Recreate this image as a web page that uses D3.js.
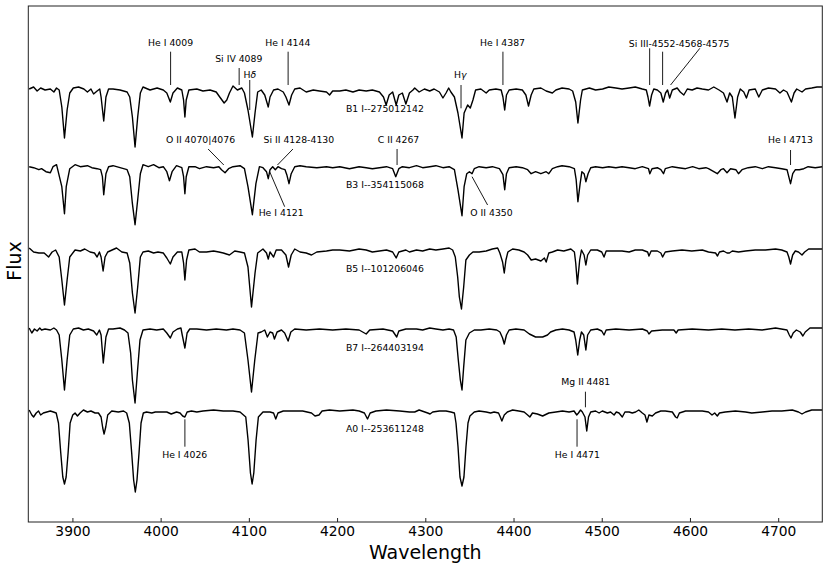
<!DOCTYPE html>
<html>
<head>
<meta charset="utf-8">
<script src="https://cdn.jsdelivr.net/npm/d3@7"></script>
<style>
    body { margin: 0; background: #fff; }
    svg text { font-family: "DejaVu Sans", sans-serif; fill: #000; }
    .axis line { stroke: #222; }
    .axis text { font-size: 13.8px; }
    .note { font-size: 9.3px; }
</style>
</head>
<body>
<div id="chart"></div>
<script>

// wavelength (A), normalized flux
var specB1 = [[3851,1.01],[3856,1.03],[3860,0.99],[3864,1.02],[3869,1.0],[3875,1.01],[3879,0.98],[3882,1.02],[3885,1.0],[3888,0.83],[3891,0.52],[3894,0.80],[3897,0.97],[3901,1.02],[3907,1.03],[3913,1.01],[3917,0.98],[3921,1.01],[3924,0.96],[3928,0.99],[3931,1.01],[3932.5,0.93],[3935.5,0.69],[3938,0.93],[3941,1.01],[3946,1.01],[3954,1.0],[3962,0.98],[3965,0.93],[3968,0.73],[3971,0.43],[3974,0.73],[3977,0.97],[3980,1.03],[3988,1.0],[3996,1.02],[4003,1.0],[4007,0.97],[4011,0.88],[4014,0.97],[4019,1.02],[4024,1.0],[4026,0.90],[4027.5,0.73],[4029,0.90],[4032,1.0],[4041,1.01],[4048,0.99],[4056,1.0],[4063,0.98],[4067,0.93],[4072,0.87],[4075,0.90],[4078,0.97],[4082,1.04],[4087,1.0],[4092,1.02],[4095,0.97],[4099,0.80],[4104,0.53],[4107,0.77],[4110,0.98],[4114,1.0],[4118,0.95],[4122,0.83],[4124,0.93],[4128,1.0],[4133,1.01],[4139,0.98],[4142,0.93],[4145.5,0.85],[4148.5,0.95],[4152,1.01],[4158,1.02],[4165,0.98],[4173,1.0],[4180,0.99],[4188,0.98],[4191.5,0.95],[4195,0.99],[4203,0.99],[4210,1.0],[4218,0.98],[4225,1.0],[4233,0.99],[4240,1.0],[4248,0.98],[4252.6,0.93],[4255.6,0.85],[4259,0.95],[4263,0.98],[4267,0.85],[4270,0.95],[4274,0.97],[4278,0.86],[4282,0.97],[4286,1.0],[4288,1.02],[4293,0.98],[4299,1.01],[4305,0.99],[4310,1.01],[4316,0.98],[4320,0.92],[4323.5,0.97],[4326.5,1.02],[4329,0.98],[4333,0.93],[4337,0.77],[4341.6,0.52],[4344,0.77],[4348,0.85],[4351,0.82],[4354,0.9],[4357,1.0],[4363,1.01],[4369,0.97],[4372.5,1.0],[4380,1.01],[4386,1.0],[4388,0.93],[4390,0.80],[4392,0.95],[4395,1.0],[4403,1.01],[4410,1.0],[4414,0.95],[4417,0.84],[4420,0.95],[4423,1.01],[4431,1.02],[4437,0.99],[4444,0.97],[4448,1.0],[4455,1.02],[4463,1.01],[4467,0.99],[4470.5,0.88],[4473,0.67],[4476,0.90],[4478,1.0],[4486,1.02],[4493,1.0],[4501,1.01],[4508,1.03],[4516,1.02],[4523,1.01],[4531,1.02],[4538,1.03],[4546,1.01],[4550.5,1.0],[4552.4,0.93],[4554.2,0.84],[4556.5,0.95],[4559,1.01],[4563,1.0],[4567,0.97],[4569.7,0.88],[4572.3,0.97],[4574.6,1.0],[4577,0.92],[4580,1.0],[4585.5,1.02],[4589,0.98],[4593,0.95],[4597,1.01],[4602.5,1.0],[4608,1.02],[4614,1.01],[4621,1.0],[4627,1.03],[4633,1.0],[4638,0.97],[4642,0.88],[4645,0.97],[4648,0.93],[4651,0.72],[4654,0.93],[4657,1.01],[4661,0.98],[4664,0.92],[4667,1.0],[4674,1.01],[4678,0.93],[4682,1.0],[4689,1.02],[4697,1.01],[4702,0.97],[4706,1.0],[4710,0.98],[4715,0.88],[4718,0.97],[4721,1.01],[4727,0.98],[4731,1.01],[4738,1.02],[4744,1.03],[4750,1.03]];

var specB3 = [[3851,1.0],[3856,0.99],[3862,0.97],[3865,0.98],[3870,0.95],[3875,0.94],[3878,1.0],[3882,1.02],[3888,0.80],[3891,0.53],[3893,0.80],[3897,0.98],[3903,1.02],[3909,1.0],[3917,1.01],[3922,0.99],[3928,0.98],[3932,0.97],[3934,0.90],[3935.5,0.72],[3938,0.93],[3941,1.0],[3946,1.01],[3954,0.99],[3962,0.97],[3965,0.90],[3968,0.63],[3971,0.42],[3974,0.67],[3977,0.93],[3980,1.02],[3986,1.0],[3992,1.02],[3998,0.99],[4003,1.0],[4007,0.95],[4010,0.86],[4013,0.95],[4018,1.01],[4024,0.99],[4026,0.90],[4027.5,0.73],[4029,0.90],[4032,1.0],[4039,1.0],[4044,0.98],[4052,1.0],[4060,0.99],[4066,1.0],[4069,0.97],[4073,0.94],[4077,0.98],[4082,1.0],[4090,1.01],[4095,0.98],[4099,0.80],[4104,0.52],[4108,0.83],[4112,1.0],[4116,0.99],[4120,0.95],[4122,0.88],[4124,0.97],[4127,1.0],[4130,0.97],[4133,1.0],[4137,0.98],[4141,0.97],[4143,0.92],[4145.5,0.83],[4148,0.93],[4152,1.0],[4158,1.01],[4165,1.0],[4177,0.99],[4188,1.0],[4195,0.99],[4203,1.0],[4214,0.98],[4225,1.0],[4233,0.99],[4240,0.98],[4248,0.99],[4256,1.0],[4263,0.98],[4266.5,0.90],[4270,0.98],[4274,1.0],[4282,0.99],[4290,1.01],[4297,0.99],[4305,1.0],[4312,1.01],[4320,0.99],[4327,1.0],[4333,0.97],[4337,0.77],[4341.6,0.51],[4344,0.80],[4347,0.93],[4350,0.95],[4353,0.93],[4355.5,0.98],[4361,1.0],[4369,0.99],[4376,1.0],[4384,0.98],[4388,0.92],[4390,0.77],[4392,0.93],[4395,0.99],[4403,1.0],[4410,0.99],[4416,0.97],[4420,0.93],[4425,0.95],[4431,0.93],[4437,0.95],[4440,0.93],[4444,0.98],[4450,1.0],[4455,1.01],[4463,1.0],[4469,0.98],[4471,0.87],[4473,0.65],[4475.5,0.83],[4477.5,0.95],[4480,0.93],[4482,0.85],[4484.5,0.93],[4487.5,0.99],[4493,1.0],[4501,0.99],[4508,1.0],[4516,0.99],[4523,1.0],[4531,0.99],[4538,0.98],[4546,1.0],[4553,0.98],[4554.5,0.93],[4557,0.98],[4563,0.99],[4567,0.97],[4570,0.93],[4572,0.98],[4580,1.0],[4587,0.99],[4595,0.98],[4603,1.0],[4610,0.98],[4618,0.99],[4621,0.98],[4631,0.93],[4635,0.97],[4638,0.98],[4642,0.94],[4646,0.98],[4652,0.97],[4655,0.93],[4659,0.97],[4666,0.99],[4674,1.0],[4682,0.98],[4689,1.0],[4697,0.99],[4704,0.98],[4710,0.97],[4714,0.83],[4716.5,0.93],[4719.5,0.97],[4724,0.97],[4729,0.98],[4734,1.0],[4742,0.99],[4750,1.0]];

var specB5 = [[3851,1.02],[3856,0.98],[3862,0.97],[3868,0.97],[3873,0.93],[3877,0.98],[3881,1.0],[3885,0.93],[3888,0.70],[3891,0.45],[3894,0.70],[3897,0.93],[3903,1.0],[3909,0.99],[3914,1.01],[3920,0.98],[3925,0.97],[3928,0.93],[3930.6,0.98],[3932.5,0.93],[3934.8,0.79],[3937,0.93],[3940,0.98],[3945,1.0],[3950,1.02],[3956,0.98],[3962,0.97],[3965,0.87],[3968,0.57],[3971,0.37],[3974,0.63],[3977,0.93],[3980,0.98],[3986,0.99],[3992,0.97],[3997,0.98],[4003,0.97],[4007,0.92],[4011,0.86],[4014,0.93],[4019,0.98],[4024,0.98],[4026,0.87],[4027.5,0.70],[4029.4,0.90],[4032,1.0],[4039,1.01],[4044,0.98],[4052,0.98],[4060,0.99],[4066,0.98],[4071,0.97],[4078,0.95],[4084,0.99],[4090,0.98],[4095,0.97],[4099,0.83],[4103,0.43],[4107,0.77],[4110,0.97],[4116,1.01],[4120,0.97],[4122,0.91],[4124,0.98],[4128,0.93],[4131,1.0],[4137,1.0],[4142,0.95],[4145,0.83],[4148,0.95],[4152,1.01],[4158,0.98],[4165,0.97],[4171,0.95],[4177,0.98],[4188,0.99],[4195,1.0],[4203,1.0],[4214,0.99],[4225,1.01],[4233,1.0],[4240,0.98],[4248,0.99],[4256,1.0],[4263,0.98],[4267,0.92],[4270,0.98],[4278,1.0],[4282,0.98],[4290,1.0],[4297,0.99],[4305,1.01],[4312,1.0],[4320,1.01],[4327,1.02],[4331,1.0],[4334,0.93],[4336.7,0.73],[4338.6,0.53],[4341,0.41],[4343.5,0.63],[4346,0.90],[4350,0.95],[4354,0.98],[4361,0.98],[4369,0.99],[4376,1.01],[4382,1.02],[4384.5,0.97],[4387.6,0.88],[4389.5,0.77],[4391.4,0.90],[4393.6,0.98],[4399,1.01],[4406,1.0],[4412,0.98],[4416,0.95],[4420,0.90],[4425,0.91],[4431,0.89],[4435,0.92],[4437,0.88],[4440,0.97],[4444,0.98],[4450,1.0],[4457,0.99],[4465,1.01],[4469,0.98],[4470.5,0.87],[4472.4,0.66],[4475,0.90],[4477,1.0],[4480,0.95],[4482,0.85],[4484,0.95],[4487.5,1.0],[4495,1.0],[4500,0.98],[4502.6,0.93],[4505,0.99],[4512,0.99],[4523,0.99],[4531,0.98],[4538,1.0],[4546,1.0],[4552,0.98],[4553.5,0.94],[4556,0.99],[4563,0.99],[4567,0.97],[4569,0.93],[4572,0.98],[4580,0.99],[4591,1.0],[4602,0.99],[4614,1.0],[4621,0.98],[4629,0.97],[4631.2,0.94],[4633.4,0.98],[4638,0.99],[4642,0.97],[4644.7,0.97],[4648,0.99],[4655,0.98],[4663,0.99],[4674,1.0],[4685.5,1.0],[4697,1.01],[4704,1.0],[4710,0.98],[4712,0.93],[4714,0.86],[4716.4,0.95],[4719.4,0.99],[4723,0.98],[4727,0.95],[4730,0.98],[4734.5,1.01],[4742,1.01],[4750,1.01]];

var specB7 = [[3851,1.01],[3854,0.96],[3857,1.0],[3860,0.98],[3863,1.01],[3865,0.99],[3869,1.0],[3875,0.99],[3879,1.01],[3882,0.99],[3885,0.94],[3888,0.69],[3891,0.39],[3894,0.69],[3897,0.94],[3901,1.0],[3907,1.01],[3912.5,0.99],[3918,1.0],[3924,0.98],[3927.6,0.94],[3930.6,0.99],[3932.5,0.94],[3935,0.66],[3938,0.92],[3941,1.0],[3946,1.0],[3954,1.01],[3959,0.99],[3963,0.96],[3966,0.76],[3968,0.49],[3971,0.26],[3973.6,0.56],[3976.6,0.89],[3980,0.99],[3988,1.0],[3995.5,0.99],[4003,1.0],[4007,0.96],[4011,0.91],[4014,0.97],[4019,1.0],[4023,1.01],[4024.5,0.94],[4027.5,0.81],[4030,0.96],[4033,1.0],[4041,1.0],[4052,0.99],[4063,1.0],[4074.6,0.99],[4082,1.0],[4090,0.99],[4095,0.96],[4099,0.69],[4103,0.37],[4106.7,0.69],[4110.4,0.96],[4114,0.97],[4118,0.99],[4121,0.92],[4124,0.97],[4127,0.96],[4129,0.90],[4132,0.97],[4137,0.99],[4140.6,0.96],[4144.5,0.88],[4147.6,0.97],[4152,1.0],[4165,0.99],[4180,1.0],[4195,0.99],[4210,1.0],[4225,0.99],[4233,0.95],[4237,0.99],[4252,1.0],[4263,0.98],[4267.6,0.92],[4270,0.98],[4278,1.0],[4282,1.0],[4290,1.0],[4297,0.99],[4305,1.01],[4312,1.0],[4320,0.99],[4327,1.0],[4332,0.99],[4335,0.92],[4337.4,0.69],[4339.7,0.49],[4341.6,0.39],[4343.5,0.62],[4346,0.89],[4350,0.96],[4355.5,0.99],[4363,0.99],[4372.5,1.0],[4381,0.99],[4384.6,0.97],[4387.6,0.91],[4389.5,0.85],[4392,0.94],[4395,0.99],[4402.7,1.0],[4412,0.99],[4418,0.95],[4425,0.92],[4433,0.92],[4438.5,0.94],[4442,0.97],[4448,0.99],[4455.5,1.0],[4463,0.99],[4468.6,0.97],[4470.5,0.89],[4472.8,0.74],[4475,0.89],[4477,0.97],[4479.6,0.94],[4482,0.79],[4484,0.94],[4487.5,0.99],[4495,1.0],[4500,0.98],[4502.6,0.94],[4505,0.99],[4516,1.0],[4531,0.99],[4546,1.0],[4551.6,0.98],[4553.5,0.95],[4556.5,0.98],[4568.6,0.99],[4581.8,0.99],[4584.4,0.96],[4586.6,0.99],[4602.5,1.0],[4621,0.99],[4636,1.0],[4651,0.99],[4666.6,1.0],[4681.7,0.99],[4697,1.01],[4710,0.99],[4712.6,0.94],[4714.5,0.91],[4717,0.96],[4720.6,0.99],[4725,0.97],[4728,0.93],[4730.7,0.97],[4736,1.01],[4750,1.01]];

var specA0 = [[3851,1.0],[3854,0.95],[3856,0.93],[3859,0.97],[3861.6,0.99],[3864,0.95],[3867,0.97],[3871,0.98],[3875,0.99],[3878.5,0.98],[3881.6,0.97],[3884.2,0.87],[3886.8,0.57],[3889.1,0.33],[3891,0.26],[3892.9,0.33],[3895.1,0.57],[3897.4,0.87],[3900.4,0.95],[3903,0.97],[3905.7,0.94],[3908.7,0.97],[3912.5,1.0],[3917,0.98],[3921,0.99],[3925.7,0.97],[3929.5,0.97],[3932.5,0.93],[3934.4,0.82],[3935.9,0.76],[3937.8,0.83],[3940,0.95],[3944.6,0.99],[3952,0.98],[3958,0.99],[3961.5,0.97],[3964.5,0.87],[3967.2,0.57],[3969.4,0.30],[3971.3,0.18],[3973.2,0.30],[3975.5,0.57],[3977.8,0.87],[3980.4,0.97],[3984,0.98],[3990,0.97],[3994,0.98],[3999,0.98],[4007,0.98],[4012,0.96],[4018,0.98],[4022,0.97],[4025,0.94],[4027.5,0.93],[4030,0.98],[4035,0.99],[4041,0.98],[4048,0.99],[4060,1.0],[4071,0.99],[4082,0.99],[4090,0.98],[4096.5,0.93],[4099.1,0.70],[4101.8,0.37],[4103.7,0.26],[4105.6,0.37],[4108.2,0.70],[4110.8,0.93],[4116,0.98],[4124,0.98],[4128,0.97],[4130.5,0.91],[4133,0.97],[4139,0.99],[4150,0.99],[4161,0.99],[4171,0.97],[4175,0.94],[4179.5,0.95],[4183,0.99],[4191.5,1.0],[4203,0.99],[4218,1.0],[4225,0.99],[4231,0.97],[4234.5,0.91],[4237.5,0.97],[4244,0.99],[4256,1.0],[4271,0.99],[4282,0.98],[4288,0.98],[4293,1.0],[4302.7,0.97],[4305.4,0.96],[4308.4,0.98],[4316,0.99],[4323.5,0.99],[4329,0.98],[4333,0.97],[4334.8,0.87],[4337.1,0.63],[4339.3,0.33],[4341.6,0.24],[4343.8,0.33],[4346.1,0.63],[4348.4,0.87],[4350.6,0.94],[4355.5,0.98],[4361,0.99],[4369,0.98],[4374,0.97],[4378,0.98],[4383,0.97],[4385,0.93],[4386.8,0.89],[4389.5,0.95],[4393,0.98],[4399,1.0],[4406,0.99],[4412,0.98],[4416,0.95],[4418.5,0.93],[4421.5,0.97],[4427,0.96],[4433,0.94],[4440,0.97],[4448,0.98],[4455.5,0.99],[4463,0.98],[4468.6,0.99],[4471.7,0.95],[4473.6,0.97],[4476,1.0],[4478,0.98],[4481,0.93],[4483,0.79],[4485,0.93],[4487.5,0.98],[4493,0.99],[4497,0.97],[4500.7,0.99],[4506.4,0.97],[4510,0.98],[4514,0.95],[4516.5,0.98],[4519.6,0.97],[4523.3,0.93],[4526.3,0.98],[4531,0.98],[4534.6,0.97],[4538.4,0.98],[4542,1.0],[4546,0.97],[4549,0.95],[4551.2,0.88],[4553.5,0.95],[4557.3,0.94],[4561,0.97],[4567,0.99],[4572,0.99],[4580,0.98],[4583.7,0.93],[4585.5,0.92],[4588,0.97],[4595,0.99],[4606,0.99],[4614,0.99],[4621,0.98],[4625,0.95],[4628,0.97],[4631,0.94],[4633.4,0.97],[4640,0.98],[4651.5,0.99],[4663,0.98],[4670,0.97],[4682,0.98],[4693,0.99],[4704,0.99],[4716,1.0],[4723,0.98],[4727,0.96],[4731,0.98],[4738,1.0],[4750,1.0]];

var spectra = [specB1, specB3, specB5, specB7, specA0];
var starNames = ["B1 I--275012142", "B3 I--354115068", "B5 I--101206046", "B7 I--264403194", "A0 I--253611248"];
var offsets = [0, -0.767, -1.6, -2.39, -3.2];

var xTicks = [3900, 4000, 4100, 4200, 4300, 4400, 4500, 4600, 4700];

// line identifications: text centre (tx, ty) and leader segments, in data units
var lineNotes = [
    {text: "He I 4009", tx: 4011.3, ty: 1.47, seg: [[4011.3, 1.383, 4011.3, 1.05]]},
    {text: "Si IV 4089", tx: 4088.6, ty: 1.31, seg: [[4089, 1.22, 4089, 1.05]]},
    {text: "H\u03b4", tx: 4101, ty: 1.155, seg: [[4101, 1.10, 4101, 0.80]], greek: true},
    {text: "He I 4144", tx: 4144.2, ty: 1.47, seg: [[4144.5, 1.383, 4144.5, 1.05]]},
    {text: "H\u03b3", tx: 4339.7, ty: 1.15, seg: [[4340.5, 1.05, 4340.5, 0.817]], greek: true},
    {text: "He I 4387", tx: 4387.5, ty: 1.47, seg: [[4388, 1.383, 4388, 1.05]]},
    {text: "Si III-4552-4568-4575", tx: 4587.7, ty: 1.467,
        seg: [[4554.3, 1.417, 4554.3, 1.05], [4569, 1.383, 4569, 1.05], [4611.2, 1.417, 4578, 1.05]]},
    {text: "O II 4070|4076", tx: 4045.2, ty: 0.50, seg: [[4053.8, 0.41, 4071.6, 0.25]]},
    {text: "Si II 4128-4130", tx: 4156.7, ty: 0.50, seg: [[4150, 0.41, 4132.4, 0.25]]},
    {text: "C II 4267", tx: 4269.6, ty: 0.50, seg: [[4268, 0.41, 4268, 0.25]]},
    {text: "He I 4713", tx: 4713.9, ty: 0.50, seg: [[4714, 0.40, 4714, 0.25]]},
    {text: "He I 4121", tx: 4136.6, ty: -0.225, seg: [[4123.6, 0.183, 4140.6, -0.167]]},
    {text: "O II 4350", tx: 4375, ty: -0.225, seg: [[4353, 0.133, 4370.6, -0.15]]},
    {text: "Mg II 4481", tx: 4481.9, ty: -1.92, seg: [[4481.5, -2.017, 4481.5, -2.173]]},
    {text: "He I 4026", tx: 4027.3, ty: -2.645, seg: [[4027.5, -2.293, 4027.5, -2.567]]},
    {text: "He I 4471", tx: 4472.3, ty: -2.645, seg: [[4472, -2.293, 4472, -2.567]]}
];

var W = 830, H = 569;
var margin = {top: 6, right: 7.7, bottom: 47, left: 28.3};
var width = W - margin.left - margin.right,
    height = H - margin.top - margin.bottom;

var x = d3.scaleLinear().domain([3850, 4750]).range([0, width]);
var y = d3.scaleLinear().domain([-3.32, 1.84]).range([height, 0]);

var svg = d3.select("#chart").append("svg")
    .attr("width", W)
    .attr("height", H)
    .append("g")
    .attr("transform", "translate(" + margin.left + "," + margin.top + ")");

svg.append("clipPath")
    .attr("id", "plotClip")
    .append("rect")
    .attr("width", width)
    .attr("height", height);

var line = d3.line()
    .x(function (d) { return x(d[0]); })
    .y(function (d) { return y(d[1] + d[2]); });

var plot = svg.append("g").attr("clip-path", "url(#plotClip)");

spectra.forEach(function (spec, i) {
    var pts = spec.map(function (d) { return [d[0], d[1], offsets[i]]; });
    plot.append("path")
        .datum(pts)
        .attr("fill", "none")
        .attr("stroke", "#000")
        .attr("stroke-width", 1.4)
        .attr("stroke-linejoin", "round")
        .attr("d", line);

    svg.append("text")
        .attr("class", "note")
        .attr("x", x(4210))
        .attr("y", y(1 + offsets[i] - 0.185))
        .attr("dy", "0.35em")
        .text(starNames[i]);
});

lineNotes.forEach(function (n) {
    n.seg.forEach(function (s) {
        svg.append("line")
            .attr("x1", x(s[0])).attr("y1", y(s[1]))
            .attr("x2", x(s[2])).attr("y2", y(s[3]))
            .attr("stroke", "#000")
            .attr("stroke-width", 0.9);
    });
    var t = svg.append("text")
        .attr("class", "note")
        .attr("x", x(n.tx))
        .attr("y", y(n.ty))
        .attr("dy", "0.35em")
        .style("text-anchor", "middle");
    if (n.greek) {
        t.append("tspan").text(n.text.charAt(0));
        t.append("tspan").style("font-style", "italic").text(n.text.slice(1));
    } else {
        t.text(n.text);
    }
});

var xAxis = d3.axisBottom(x)
    .tickValues(xTicks)
    .tickFormat(d3.format("d"))
    .tickSizeInner(-4)
    .tickSizeOuter(0)
    .tickPadding(4.5);

var gx = svg.append("g")
    .attr("class", "x axis")
    .attr("transform", "translate(0," + height + ")")
    .call(xAxis);
gx.select(".domain").remove();
gx.selectAll("text").style("font-size", "13.8px");

svg.append("rect")
    .attr("width", width)
    .attr("height", height)
    .attr("fill", "none")
    .attr("stroke", "#222")
    .attr("stroke-width", 1);

svg.append("text")
    .attr("x", width / 2)
    .attr("y", height + 36.5)
    .style("text-anchor", "middle")
    .style("font-size", "19px")
    .text("Wavelength");

svg.append("text")
    .attr("transform", "translate(" + (-14) + "," + (height / 2 - 3) + ") rotate(-90)")
    .attr("dy", "0.35em")
    .style("text-anchor", "middle")
    .style("font-size", "19px")
    .text("Flux");

</script>
</body>
</html>
